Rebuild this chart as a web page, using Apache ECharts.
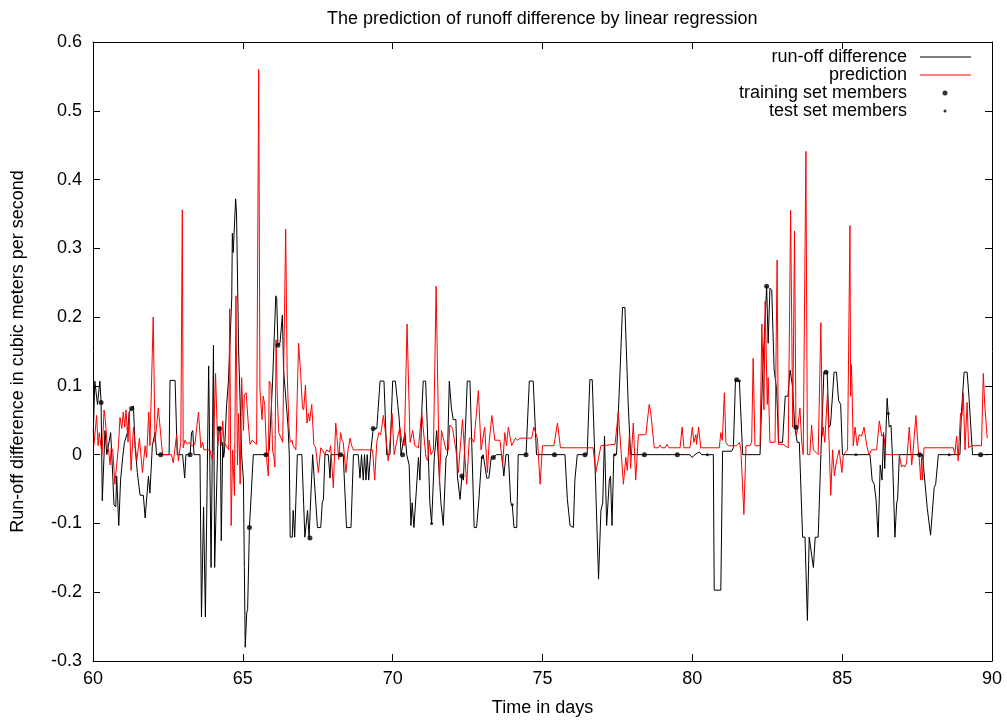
<!DOCTYPE html>
<html>
<head>
<meta charset="utf-8">
<script src="https://cdn.jsdelivr.net/npm/echarts@6/dist/echarts.min.js"></script>
<style>html,body{margin:0;padding:0;background:#fff}#chart{width:1007px;height:720px}</style>
</head>
<body>
<div id="chart"></div>
<script>
// ---- data (time in days, run-off difference in m^3/s) ----
const runoff = [[60.01,0.032],[60.06,0.107],[60.12,0.107],[60.15,0.073],[60.19,0.073],[60.23,0.107],[60.27,0.076],[60.31,-0.067],[60.40,0.035],[60.46,0],[60.51,0],[60.59,0.032],[60.66,-0.031],[60.70,-0.073],[60.76,-0.076],[60.79,-0.031],[60.86,-0.103],[60.92,-0.037],[60.99,-0.004],[61.05,0.018],[61.10,0.018],[61.15,0.032],[61.21,0.062],[61.29,0.067],[61.35,0.071],[61.40,0.013],[61.48,-0.026],[61.57,-0.059],[61.68,-0.059],[61.74,-0.092],[61.79,-0.09],[61.85,-0.031],[61.90,-0.056],[61.98,0.013],[62.07,0.032],[62.12,0],[62.26,0],[62.54,0],[62.57,0.108],[62.74,0.108],[62.81,0],[62.99,0],[63.06,-0.034],[63.10,0],[63.24,0],[63.29,0.032],[63.33,0.035],[63.37,0],[63.57,0],[63.62,-0.236],[63.66,-0.236],[63.69,-0.076],[63.75,-0.236],[63.78,-0.236],[63.86,0.129],[63.90,0.129],[63.94,-0.164],[64.02,0.159],[64.06,-0.164],[64.10,-0.092],[64.15,-0.092],[64.18,0.04],[64.22,0.038],[64.25,0.035],[64.28,-0.125],[64.33,0.018],[64.36,-0.004],[64.39,0.007],[64.46,0.073],[64.52,0.107],[64.55,0.109],[64.63,0.228],[64.65,0.322],[64.68,0.294],[64.76,0.372],[64.79,0.35],[64.86,0.151],[64.96,0],[65.02,-0.037],[65.05,-0.164],[65.08,-0.28],[65.13,-0.23],[65.16,-0.225],[65.22,-0.106],[65.35,0],[65.82,0],[65.88,0.007],[65.99,0.104],[66.10,0.231],[66.13,0.228],[66.17,0.159],[66.24,0.162],[66.32,0.203],[66.36,0.123],[66.40,0.123],[66.44,0.079],[66.51,0.04],[66.55,0],[66.58,-0.12],[66.65,-0.12],[66.68,-0.081],[66.73,-0.12],[66.82,0],[66.97,0],[67.07,-0.12],[67.12,-0.12],[67.16,-0.081],[67.21,-0.12],[67.24,-0.121],[67.33,0],[67.35,0],[67.49,-0.106],[67.60,-0.106],[67.65,-0.07],[67.69,-0.065],[67.74,0],[67.85,0],[67.91,-0.034],[67.94,0],[68.35,0],[68.46,-0.106],[68.61,-0.106],[68.69,0],[68.85,0],[68.91,-0.034],[68.96,0],[69.02,-0.037],[69.06,0],[69.11,-0.037],[69.15,0],[69.20,-0.037],[69.26,0],[69.32,0],[69.35,0.038],[69.47,0.038],[69.58,0.107],[69.71,0.107],[69.80,0],[69.91,0],[70.00,0.107],[70.09,0.107],[70.17,0.073],[70.22,0.051],[70.28,0],[70.33,0],[70.41,0.032],[70.47,0],[70.55,-0.015],[70.61,-0.103],[70.65,-0.07],[70.71,-0.106],[70.77,-0.106],[70.86,-0.004],[70.91,-0.037],[70.97,0.062],[71.02,0.107],[71.10,0.107],[71.19,0],[71.24,-0.07],[71.30,-0.1],[71.39,-0.004],[71.47,0.035],[71.61,-0.07],[71.69,-0.103],[71.78,-0.004],[71.83,0],[71.89,0.107],[71.96,0.068],[72.02,0.051],[72.11,0.051],[72.16,-0.031],[72.25,-0.065],[72.31,-0.031],[72.36,-0.037],[72.43,0.04],[72.49,0.107],[72.58,0.107],[72.65,0],[72.72,-0.106],[72.80,-0.106],[72.87,-0.07],[72.91,-0.07],[72.97,-0.004],[73.02,0],[73.08,0],[73.14,-0.034],[73.21,-0.034],[73.29,-0.004],[73.36,-0.004],[73.47,0],[73.64,0],[73.71,-0.031],[73.78,0],[73.86,0],[73.94,-0.07],[73.99,-0.073],[74.05,-0.106],[74.14,-0.106],[74.19,0],[74.45,0],[74.56,0.107],[74.69,0.107],[74.80,0],[75.75,0],[75.83,-0.065],[75.92,-0.103],[76.03,-0.106],[76.08,-0.037],[76.16,0],[76.49,0],[76.58,0.109],[76.66,0.109],[76.73,0.018],[76.87,-0.181],[76.95,-0.081],[77.01,-0.07],[77.07,0.027],[77.14,-0.103],[77.23,-0.037],[77.27,-0.031],[77.32,-0.103],[77.38,0],[77.47,0],[77.58,0.112],[77.67,0.214],[77.75,0.214],[77.86,0.073],[77.94,0],[79.92,0],[79.99,-0.004],[80.09,0],[80.23,0.004],[80.31,0],[80.70,0],[80.73,-0.197],[80.95,-0.197],[81.01,0.005],[81.31,0.005],[81.37,0.01],[81.44,0.109],[81.48,0.109],[81.57,0.107],[81.68,0],[82.26,0],[82.35,0.123],[82.40,0.123],[82.48,0.245],[82.53,0.162],[82.59,0.242],[82.65,0.239],[82.73,0.123],[82.81,0.096],[82.88,0.018],[83.01,0.018],[83.10,0.085],[83.19,0.085],[83.26,0.123],[83.34,0.101],[83.42,0.04],[83.46,0.04],[83.50,0.018],[83.57,0.018],[83.68,-0.12],[83.76,-0.12],[83.84,-0.241],[83.90,-0.12],[83.95,-0.12],[84.04,-0.164],[84.10,-0.12],[84.20,-0.12],[84.29,0],[84.39,0.12],[84.50,0.12],[84.56,0.04],[84.61,0.043],[84.73,0.12],[84.81,0.12],[84.88,0.079],[84.95,0.073],[85.01,0],[85.93,0],[86.00,-0.037],[86.07,-0.043],[86.13,-0.065],[86.20,-0.12],[86.27,-0.015],[86.33,-0.037],[86.38,0.032],[86.42,-0.02],[86.50,0.082],[86.57,0.04],[86.63,0.043],[86.68,-0.004],[86.76,-0.12],[86.82,-0.07],[86.85,-0.065],[86.91,0],[87.68,0],[87.84,-0.078],[87.95,-0.117],[87.98,-0.117],[88.07,-0.048],[88.12,-0.043],[88.21,0],[88.93,0],[88.98,0.062],[89.07,0.12],[89.17,0.12],[89.23,0.085],[89.35,0],[89.87,0]];

const prediction = [[60.03,0.013],[60.12,0.057],[60.17,0.013],[60.21,0.032],[60.30,0],[60.37,0.065],[60.41,0.051],[60.48,0.01],[60.52,0.007],[60.57,-0.015],[60.61,0.01],[60.66,0.007],[60.73,-0.043],[60.79,-0.015],[60.85,0.013],[60.90,0.054],[60.96,0.038],[61.01,0.062],[61.06,0.04],[61.10,0.065],[61.17,0.018],[61.21,0.062],[61.27,-0.023],[61.35,0.04],[61.46,-0.009],[61.55,0.024],[61.65,-0.026],[61.74,0.013],[61.79,-0.004],[61.86,0.062],[61.90,0.013],[62.01,0.2],[62.07,0.018],[62.18,0.068],[62.26,0.029],[62.32,0],[62.62,0],[62.68,-0.012],[62.79,0.029],[62.85,-0.009],[62.93,0.018],[62.98,0.356],[63.01,0.01],[63.07,0.021],[63.15,0.015],[63.21,0.018],[63.29,0.013],[63.40,0.015],[63.52,0.062],[63.60,0.01],[63.66,0.018],[63.70,0.007],[63.90,0.007],[63.98,-0.007],[64.02,0.007],[64.09,0.118],[64.16,0.013],[64.24,0.04],[64.28,0.013],[64.33,0.049],[64.37,0.018],[64.53,0.007],[64.56,0.212],[64.61,-0.103],[64.66,0.007],[64.72,-0.059],[64.77,0.231],[64.82,-0.015],[64.86,0.06],[64.91,-0.043],[64.96,0.112],[65.02,0.035],[65.05,0.087],[65.11,0.09],[65.18,0.046],[65.24,0.015],[65.31,0.021],[65.46,0.015],[65.53,0.56],[65.57,0.096],[65.64,0.051],[65.68,0.085],[65.73,0.073],[65.80,-0.009],[65.85,-0.031],[65.88,0.107],[65.94,0.101],[65.99,0.007],[66.04,-0.004],[66.07,-0.018],[66.11,0.167],[66.15,0.085],[66.20,0.032],[66.26,0.032],[66.33,0.018],[66.37,0.018],[66.43,0.328],[66.48,0.118],[66.54,0.04],[66.58,0.018],[66.64,0.021],[66.68,0.013],[66.73,0.015],[66.77,0.007],[66.86,0.162],[66.93,0.118],[66.99,0.068],[67.03,0.065],[67.09,0.101],[67.14,0.046],[67.19,0.06],[67.23,0.049],[67.30,0.073],[67.37,0.015],[67.43,0.01],[67.52,-0.026],[67.60,0.01],[67.66,0.007],[67.73,0],[67.80,0.007],[67.89,0.004],[67.93,0.013],[68.02,-0.048],[68.10,0.046],[68.14,0.027],[68.20,-0.007],[68.26,0.032],[68.31,0.021],[68.35,0.018],[68.44,-0.026],[68.51,0.007],[68.58,0.024],[68.63,0.013],[68.69,0.007],[69.33,0.007],[69.40,-0.037],[69.47,0.018],[69.54,0.032],[69.60,0.029],[69.69,0.057],[69.78,0.024],[69.85,-0.009],[69.91,0.018],[69.98,0.06],[70.05,0],[70.13,0.018],[70.24,0.04],[70.31,0.018],[70.39,0.013],[70.48,0.19],[70.58,0.018],[70.67,0.035],[70.74,0.013],[70.86,0.01],[70.97,0.062],[71.11,-0.004],[71.17,-0.009],[71.22,0.021],[71.28,0],[71.36,0.007],[71.45,0.245],[71.56,-0.043],[71.63,0.035],[71.78,0.007],[71.86,0.007],[71.91,0.043],[72.00,0.038],[72.11,0.007],[72.19,-0.026],[72.33,0.051],[72.47,-0.043],[72.56,0.024],[72.63,0.024],[72.71,0.018],[72.86,0.093],[72.95,0.007],[73.00,0.007],[73.07,0.04],[73.16,-0.026],[73.22,0.018],[73.31,0.057],[73.41,0.021],[73.58,0.021],[73.67,-0.015],[73.74,0.032],[73.80,0.013],[73.86,0.04],[73.97,0.013],[74.10,0.024],[74.17,0.021],[74.25,0.024],[74.64,0.024],[74.71,0.04],[74.83,0.024],[74.92,-0.043],[75.00,0.013],[75.38,0.013],[75.50,0.046],[75.60,0.01],[76.69,0.01],[76.78,-0.026],[76.86,-0.007],[76.95,0.013],[77.42,0.015],[77.53,0.062],[77.70,-0.043],[77.78,-0.004],[77.83,-0.023],[77.90,0.029],[77.94,-0.02],[78.03,0.046],[78.11,-0.037],[78.20,0.029],[78.45,0.029],[78.56,0.073],[78.61,0.062],[78.73,0.01],[78.86,0.01],[78.92,0.014],[78.97,0.01],[79.09,0.01],[79.15,0.015],[79.22,0.01],[79.59,0.01],[79.66,0.04],[79.72,0.01],[79.92,0.01],[80.00,0.04],[80.05,0.018],[80.12,0.029],[80.14,0.015],[80.21,0.04],[80.28,0.01],[80.90,0.01],[80.95,0.032],[81.00,0.021],[81.07,0.09],[81.12,0.018],[81.20,0.013],[81.48,0.013],[81.57,0.018],[81.62,0.007],[81.72,-0.087],[81.79,0.013],[81.92,0.013],[81.98,0.018],[82.03,0.14],[82.09,0.013],[82.26,0.013],[82.32,0.19],[82.39,0.065],[82.43,0.223],[82.50,0.073],[82.53,0.112],[82.59,0.018],[82.76,0.018],[82.83,0.283],[82.87,0.015],[83.03,0.015],[83.20,0.01],[83.28,0.355],[83.35,0.04],[83.41,0.325],[83.46,0.029],[83.51,0.035],[83.59,0.068],[83.65,0.018],[83.70,0],[83.79,0.441],[83.84,0],[83.92,0],[83.98,0.043],[84.04,0.007],[84.20,0],[84.29,0.192],[84.34,0.027],[84.37,0.04],[84.42,0.018],[84.51,0.09],[84.62,-0.059],[84.68,0.007],[84.74,-0.031],[84.79,-0.015],[84.84,-0.004],[84.90,0.007],[84.99,-0.026],[85.04,0],[85.18,0.007],[85.26,0.333],[85.28,0.085],[85.31,0.131],[85.37,0.013],[85.43,0.04],[85.50,0.013],[85.57,0.029],[85.65,0.027],[85.73,0.04],[85.82,0.013],[85.90,0],[85.98,0.007],[86.15,0.007],[86.24,0.049],[86.32,0.027],[86.39,0.029],[86.46,0],[86.91,0],[86.98,-0.018],[87.04,-0.015],[87.09,-0.018],[87.15,-0.012],[87.24,0.04],[87.32,-0.015],[87.37,0.007],[87.46,0.057],[87.54,0.007],[87.57,-0.004],[87.62,-0.037],[87.65,-0.004],[87.68,-0.037],[87.73,0.01],[88.71,0.01],[88.76,0],[88.82,0.027],[88.87,-0.009],[88.95,0.06],[89.00,0.057],[89.04,0.09],[89.10,0.007],[89.17,0.076],[89.22,0.01],[89.32,0.013],[89.65,0.013],[89.71,0.118],[89.76,0.071],[89.80,0.071],[89.84,0.024]];

const trainingSet = [[60.27,0.076],[61.29,0.067],[62.26,0],[63.24,0],[64.22,0.038],[65.22,-0.106],[65.77,0],[66.17,0.159],[67.24,-0.121],[68.26,0],[69.35,0.038],[70.33,0],[72.31,-0.031],[73.36,-0.004],[74.45,0],[75.40,0],[76.42,0],[78.40,0],[79.50,0],[81.48,0.109],[82.48,0.245],[83.46,0.04],[84.46,0.12],[87.59,0],[89.62,0]];
const testSet = [[71.30,-0.1],[72.99,-0.004],[73.99,-0.073],[77.41,0],[80.50,0],[81.57,0.107],[85.46,0],[86.54,0.06],[88.57,0]];

const seriesNames = ['run-off difference', 'prediction', 'training set members', 'test set members'];
const titleText = 'The prediction of runoff difference by linear regression';
const xAxisTitle = 'Time in days';
const yAxisTitle = 'Run-off difference in cubic meters per second';
const xRange = [60, 90, 5];
const yRange = [-0.3, 0.6, 0.1];

// ---- chart ----
const FONT = 'Liberation Sans, Arial, Helvetica, sans-serif';
const FS = 18;
const chart = echarts.init(document.getElementById('chart'), null, {renderer: 'canvas'});

function xAx(pos, labels) {
  return {
    type: 'value', position: pos, min: xRange[0], max: xRange[1], interval: xRange[2],
    axisLine: {show: true, onZero: false, lineStyle: {color: '#000', width: 1}},
    axisTick: {show: true, inside: true, length: 7, lineStyle: {color: '#000'}},
    axisLabel: {show: labels, margin: 9, color: '#000', fontSize: FS, fontFamily: FONT},
    splitLine: {show: false},
    name: labels ? xAxisTitle : '', nameLocation: 'middle', nameGap: 38,
    nameTextStyle: {color: '#000', fontSize: FS, fontFamily: FONT}
  };
}
function yAx(pos, labels) {
  return {
    type: 'value', position: pos, min: yRange[0], max: yRange[1], interval: yRange[2],
    axisLine: {show: true, onZero: false, lineStyle: {color: '#000', width: 1}},
    axisTick: {show: true, inside: true, length: 7, lineStyle: {color: '#000'}},
    axisLabel: {show: labels, margin: 11, color: '#000', fontSize: FS, fontFamily: FONT,
      formatter: v => String(Math.round(v * 10) / 10)},
    splitLine: {show: false},
    name: labels ? yAxisTitle : '', nameLocation: 'middle', nameGap: 66, nameRotate: 90,
    nameTextStyle: {color: '#000', fontSize: FS, fontFamily: FONT}
  };
}
function legendFor(name, top, right, w, h, padRight, icon) {
  return {
    data: [name], orient: 'vertical', top: top, right: right, padding: 0,
    align: 'right', itemWidth: w, itemHeight: h, selectedMode: false, icon: icon,
    textStyle: {color: '#000', fontSize: FS, fontFamily: FONT, padding: [0, padRight, 0, 0]}
  };
}

chart.setOption({
  animation: false,
  backgroundColor: '#fff',
  title: {text: titleText, left: 322, top: 5,
    textStyle: {color: '#000', fontSize: FS, fontWeight: 'normal', fontFamily: FONT}},
  grid: {left: 93, right: 15, top: 42, bottom: 59, containLabel: false, outerBoundsMode: 'none'},
  legend: [
    legendFor(seriesNames[0], 48, 36, 51, 1, 8, 'rect'),
    legendFor(seriesNames[1], 66, 36, 51, 1, 8, 'rect'),
    legendFor(seriesNames[2], 84, 59.5, 5, 5, 30.5, 'circle'),
    legendFor(seriesNames[3], 102, 60.5, 3, 3, 31.5, 'circle')
  ],
  xAxis: [xAx('bottom', true), xAx('top', false)],
  yAxis: [yAx('left', true), yAx('right', false)],
  series: [
    {name: seriesNames[0], type: 'line', data: runoff, xAxisIndex: 0, yAxisIndex: 0,
      symbol: 'none', lineStyle: {color: '#000', width: 1}, itemStyle: {color: '#000'}, z: 2},
    {name: seriesNames[1], type: 'line', data: prediction, xAxisIndex: 0, yAxisIndex: 0,
      symbol: 'none', lineStyle: {color: '#ff0000', width: 1}, itemStyle: {color: '#ff0000'}, z: 3},
    {name: seriesNames[2], type: 'scatter', data: trainingSet, symbol: 'circle', symbolSize: 5,
      itemStyle: {color: '#000'}, z: 4},
    {name: seriesNames[3], type: 'scatter', data: testSet, symbol: 'circle', symbolSize: 3,
      itemStyle: {color: '#000'}, z: 4}
  ]
});
</script>
</body>
</html>
